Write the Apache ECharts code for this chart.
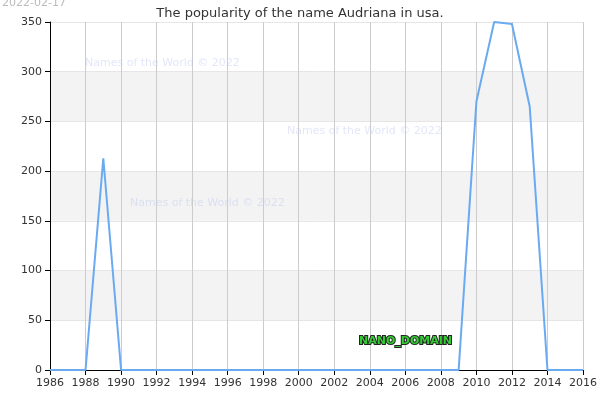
<!DOCTYPE html><html><head><meta charset="utf-8">
<script src="https://cdn.jsdelivr.net/npm/echarts@6/dist/echarts.min.js"></script>
<style>body{margin:0}#c{width:600px;height:400px}</style></head><body><div id="c"></div>
<script>
const years=[1986,1987,1988,1989,1990,1991,1992,1993,1994,1995,1996,1997,1998,1999,2000,2001,2002,2003,2004,2005,2006,2007,2008,2009,2010,2011,2012,2013,2014,2015,2016];
const counts=[0,0,0,213,0,0,0,0,0,0,0,0,0,0,0,0,0,0,0,0,0,0,0,0,270,350,348,265,0,0,0];
const title="The popularity of the name Audriana in usa.";
const chart=echarts.init(document.getElementById('c'));
const f='DejaVu Sans';
const wm=(x,y)=>({type:'text',x:x,y:y,z:100,style:{text:'Names of the World © 2022',fill:'rgba(190,200,240,0.45)',fontSize:11,fontFamily:f}});
chart.setOption({
 animation:false,
 title:{text:title,left:'center',top:2,textStyle:{fontFamily:f,fontSize:13,fontWeight:'normal',color:'#333'}},
 grid:{left:50,right:14,top:22,bottom:30},
 xAxis:{type:'value',min:1986,max:2016,interval:2,
  axisLine:{lineStyle:{color:'#000'}},axisTick:{show:true,lineStyle:{color:'#000'}},
  axisLabel:{color:'#333',fontFamily:f,fontSize:11,formatter:v=>String(v)},
  splitLine:{show:true,lineStyle:{color:'#ccc'}}},
 yAxis:{type:'value',min:0,max:350,interval:50,
  axisLine:{show:true,lineStyle:{color:'#000'}},axisTick:{show:true,lineStyle:{color:'#000'}},
  axisLabel:{color:'#333',fontFamily:f,fontSize:11},
  splitLine:{show:true,lineStyle:{color:'#e6e6e6'}},
  splitArea:{show:true,areaStyle:{color:['#fff','#f3f3f3']}}},
 series:[{type:'line',data:years.map((y,i)=>[y,counts[i]]),showSymbol:false,
  lineStyle:{color:'#6aaaf0',width:2},clip:true}],
 graphic:{elements:[
  {type:'text',x:2,y:-2,z:100,style:{text:'2022-02-17',fill:'#bbb',fontSize:11,fontFamily:f}},
  wm(85,58),wm(287,126),wm(130,198),
  {type:'text',x:359,y:336,z:100,style:{text:'NANO_DOMAIN',fill:'#3c3',stroke:'#222',lineWidth:2,fontSize:11,fontWeight:'bold',fontFamily:f}}
 ]}
});
</script></body></html>
